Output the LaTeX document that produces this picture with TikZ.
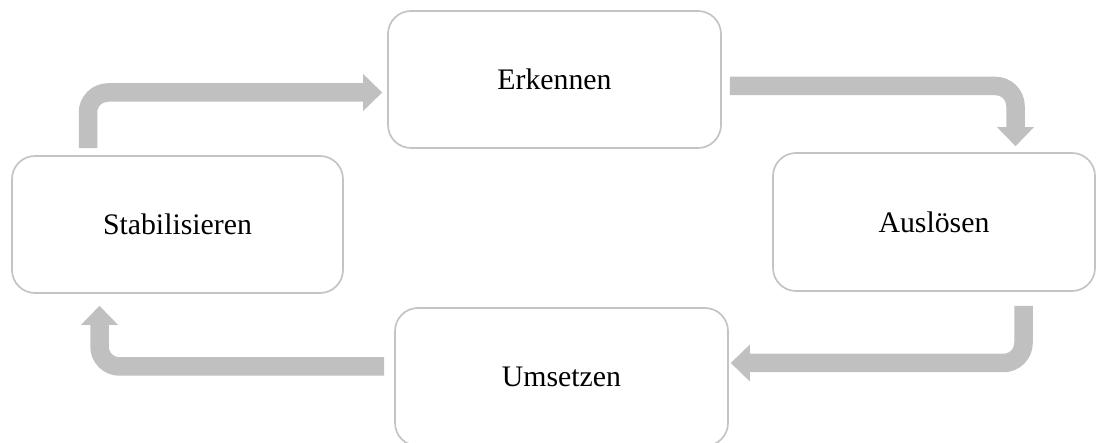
\documentclass[tikz,border=0pt]{standalone}
\usepackage{fontspec}
\setmainfont{Liberation Serif}
\usetikzlibrary{arrows.meta,calc}
\definecolor{flowgray}{RGB}{192,192,192}
\definecolor{boxgray}{RGB}{196,196,196}
\tikzset{
  stagebox/.style={draw=boxgray, line width=1.7pt, rounded corners=23pt, fill=white,
    inner sep=0pt, align=center, font=\fontsize{29.8}{36}\selectfont},
  flow/.style={draw=flowgray, line width=18.5pt, rounded corners=20pt,
    -{Triangle[width=37pt,length=19pt,line width=0pt]}},
}
\begin{document}
\begin{tikzpicture}[x=1pt,y=-1pt]
\useasboundingbox (0,0) rectangle (1096,443);
\node[stagebox, minimum width=333pt, minimum height=137pt] (erk)  at (554.5,79.5) {Erkennen};
\node[stagebox, minimum width=331pt, minimum height=137pt] (stab) at (177.5,224.5) {Stabilisieren};
\node[stagebox, minimum width=322pt, minimum height=138pt] (aus)  at (934,222) {Auslösen};
\node[stagebox, minimum width=333pt, minimum height=138pt] (um)   at (561.5,377) {Umsetzen};

\draw[flow] ([xshift=-89.5pt,yshift=7pt]stab.north) |- ([xshift=-5pt,yshift=-13pt]erk.west);
\draw[flow] ([xshift=8pt,yshift=-6.5pt]erk.east) -| ([xshift=81.5pt,yshift=6pt]aus.north);
\draw[flow] ([xshift=89.5pt,yshift=-14pt]aus.south) |- ([xshift=2pt,yshift=14pt]um.east);
\draw[flow] ([xshift=-10pt,yshift=10.5pt]um.west) -| ([xshift=-78pt,yshift=-12pt]stab.south);
\end{tikzpicture}
\end{document}
